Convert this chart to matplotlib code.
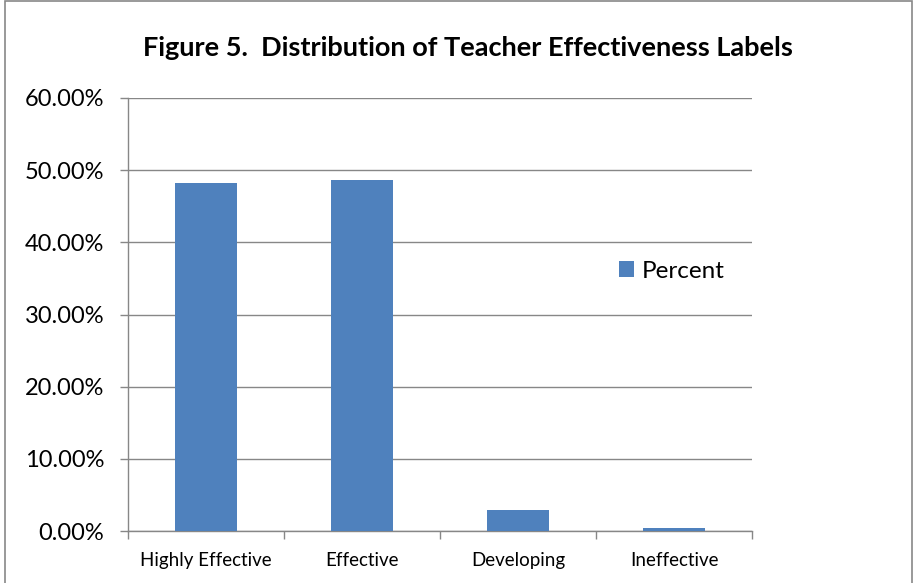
import matplotlib
matplotlib.use("Agg")
import matplotlib.pyplot as plt
from matplotlib.patches import Rectangle
from matplotlib.ticker import FuncFormatter, FixedLocator

categories = ["Highly Effective", "Effective", "Developing", "Ineffective"]
percent = [48.2, 48.6, 2.9, 0.4]
series_name = "Percent"
title = "Figure 5.  Distribution of Teacher Effectiveness Labels"

plt.rcParams['font.family'] = ['Lato', 'DejaVu Sans']

W, H = 917, 583
fig = plt.figure(figsize=(W/100, H/100), dpi=100)
ax = fig.add_axes([128/W, 1-531/H, (752-128)/W, (531-98)/H])

grid_col = "#878787"
bar_col = "#4F81BD"
x = list(range(len(categories)))
bars = ax.bar(x, percent, width=0.4, color=bar_col, zorder=3, label=series_name)
ax.set_xlim(-0.5, len(categories)-0.5)
ax.set_ylim(0, 60)
ax.set_yticks([0, 10, 20, 30, 40, 50, 60])
ax.yaxis.set_major_formatter(FuncFormatter(lambda v, p: f"{v:.2f}%"))
ax.grid(axis='y', color=grid_col, linewidth=1.0, zorder=0)
ax.set_xticks(x)
ax.set_xticklabels(categories, fontsize=13.5)
ax.tick_params(axis='x', length=0, pad=15)
ax.xaxis.set_minor_locator(FixedLocator([i-0.5 for i in range(len(categories)+1)]))
ax.tick_params(axis='x', which='minor', length=6, color=grid_col, width=1)
ax.tick_params(axis='y', labelsize=17, length=6, color=grid_col, width=1, pad=11)
for s in ['top', 'right']:
    ax.spines[s].set_visible(False)
for s in ['left', 'bottom']:
    ax.spines[s].set_color(grid_col)
    ax.spines[s].set_linewidth(1.0)

leg = fig.legend(handles=[bars], labels=[series_name], loc='center left',
                 bbox_to_anchor=(607/W, 1-271/H), frameon=False, fontsize=17.5,
                 handlelength=0.6, handleheight=0.6, handletextpad=0.35, borderpad=0)

fig.text(468/W, 1-48/H, title, ha='center', va='center', fontsize=19.5, fontweight='bold')

fig.patches.append(Rectangle((5/W, -0.01), 1-10/W, 1-1/H+0.01, transform=fig.transFigure,
                             fill=False, edgecolor=grid_col, linewidth=1.2))

fig.savefig("out.png", dpi=100)
